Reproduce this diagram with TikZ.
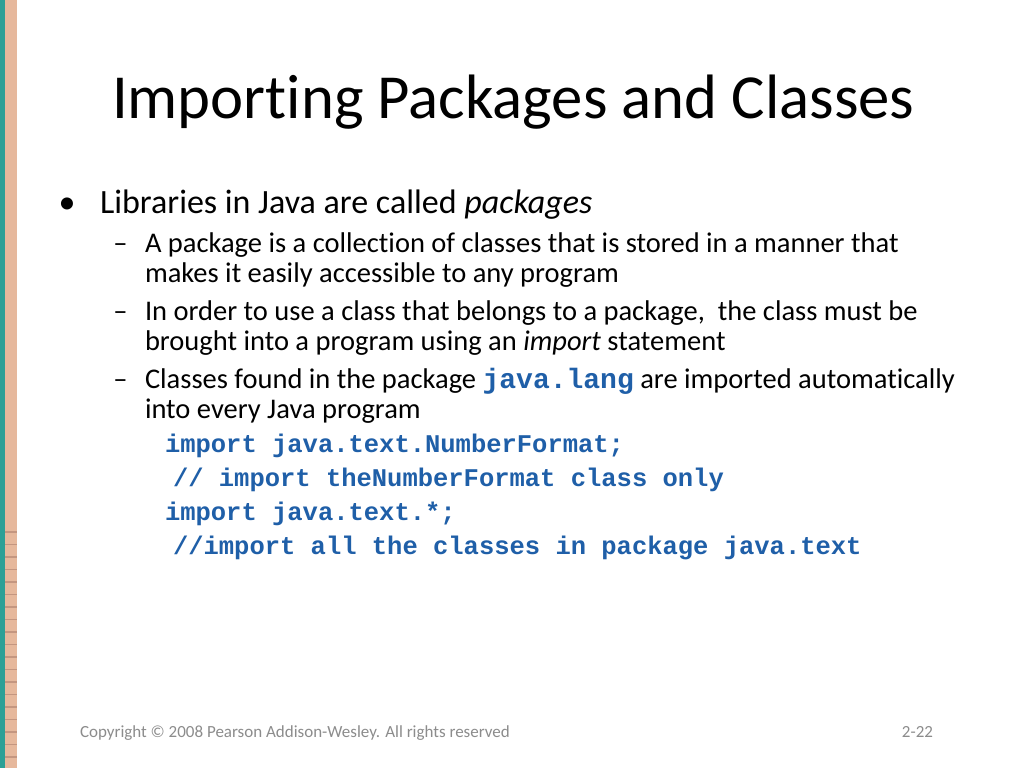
\documentclass[tikz,border=0pt]{standalone}
\usepackage{fontspec}
\setmainfont{Carlito}[Ligatures=NoCommon]
\setmonofont{Liberation Mono}
\usetikzlibrary{positioning}

\definecolor{codeblue}{RGB}{31,95,168}
\definecolor{stripteal}{RGB}{45,160,150}
\definecolor{strippeach}{RGB}{230,184,156}
\definecolor{stripdark}{RGB}{196,150,128}
\definecolor{footgray}{RGB}{140,140,140}

\newcommand{\code}[1]{{\ttfamily\bfseries\color{codeblue}#1}}

\tikzset{
  txt/.style={anchor=base west, inner sep=0pt, outer sep=0pt},
  titletxt/.style={txt, font=\fontsize{62.7}{72}\selectfont},
  lvlone/.style={txt, font=\fontsize{34}{40}\selectfont},
  lvltwo/.style={txt, font=\fontsize{28.5}{30}\selectfont},
  codeline/.style={txt, font=\fontsize{25.5}{30}\ttfamily\bfseries, text=codeblue},
  foot/.style={txt, font=\fontsize{17}{20}\selectfont, text=footgray}
}

\begin{document}
\begin{tikzpicture}[x=1pt,y=-1pt]

\useasboundingbox (0,0) rectangle (1024,768);
\fill[white] (0,0) rectangle (1024,768);

% left strip
\fill[stripteal] (0,0) rectangle (4.5,768);
\fill[strippeach] (5,0) rectangle (16.5,768);
\foreach \y in {532,544.5,...,768}
  \draw[stripdark, line width=1.8pt] (5,\y) -- (16.5,\y);

% title
\node[titletxt] (title) at (112,118) {Importing Packages and Classes};

% first level
\node[lvlone, anchor=base] (bul) at (67,213) {•};
\node[lvlone] (libs) at (100,213) {Libraries in Java are called \textit{packages}};

% second level
\node[lvltwo, anchor=base] (d1) at (120.5,252) {–};
\node[lvltwo] (pkga) at (145,252) {A package is a collection of classes that is stored in a manner that};
\node[lvltwo] (pkgb) at (145,282) {makes it easily accessible to any program};

\node[lvltwo, anchor=base] (d2) at (120.5,320) {–};
\node[lvltwo] (usea) at (145,320) {In order to use a class that belongs to a package,\ \ the class must be};
\node[lvltwo] (useb) at (145,350) {brought into a program using an \textit{import} statement};

\node[lvltwo, anchor=base] (d3) at (120.5,388) {–};
\node[lvltwo] (langa) at (145,388) {Classes found in the package {\fontsize{28}{30}\selectfont\code{java.lang}} are imported automatically};
\node[lvltwo] (langb) at (145,418) {into every Java program};

% code lines
\node[codeline] (imp1) at (165,452) {import java.text.NumberFormat;};
\node[codeline] (cmt1) at (173,486) {// import theNumberFormat class only};
\node[codeline] (imp2) at (165,520) {import java.text.*;};
\node[codeline] (cmt2) at (173,554) {//import all the classes in package java.text};

% footer
\node[foot] (copy) at (80,737) {Copyright © 2008 Pearson Addison-Wesley. All rights reserved};
\node[foot, anchor=base east] (page) at (933,737) {2-22};

\end{tikzpicture}
\end{document}
